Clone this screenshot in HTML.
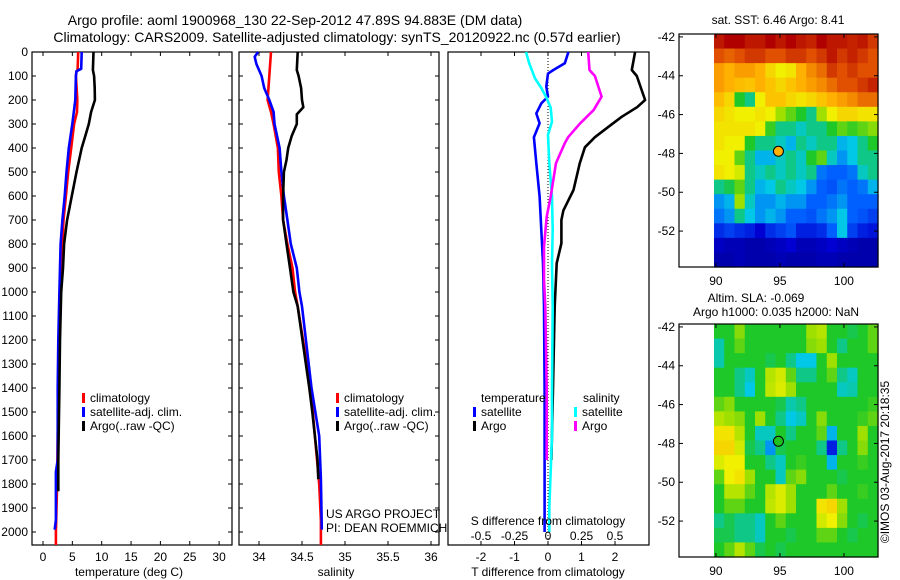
<!DOCTYPE html>
<html><head><meta charset="utf-8"><title>Argo profile</title>
<style>
html,body{margin:0;padding:0;background:#fff;}
svg{display:block;font-family:"Liberation Sans",sans-serif;}
text{font-size:12px;fill:#000;}
.ttl{font-size:14px;}
</style></head>
<body>
<svg id="fig" width="900" height="580" viewBox="0 0 900 580" xmlns="http://www.w3.org/2000/svg">
<g>
<text class="ttl" x="295" y="25" text-anchor="middle">Argo profile: aoml 1900968_130 22-Sep-2012 47.89S 94.883E (DM data)</text>
<text class="ttl" x="337" y="42" text-anchor="middle">Climatology: CARS2009. Satellite-adjusted climatology: synTS_20120922.nc (0.57d earlier)</text>
</g>
<g id="p1"></g>
<g id="p2"></g>
<g id="p3"></g>
<g id="m1"></g>
<g id="m2"></g>
<text x="0" y="0" transform="translate(889,462) rotate(-90)" text-anchor="middle">©IMOS 03-Aug-2017 20:18:35</text>
</svg>
<script>
// ---- profile data (depth m, value) ----
const tClimDepth = [0,75,80,100,200,250,300,400,500,600,700,800,900,1000,1200,1400,1600,1800,2000,2054];
const tClimVal   = [6.0,5.9,5.7,5.6,5.85,5.8,5.3,4.8,4.3,3.9,3.5,3.3,3.1,2.9,2.7,2.6,2.5,2.4,2.2,2.2];
const tSatDepth  = [0,70,80,100,200,300,400,500,600,700,800,900,1000,1200,1400,1700,1750,1950,1990];
const tSatVal    = [6.6,6.5,5.7,5.6,5.5,5.0,4.4,4.0,3.7,3.3,3.0,2.9,2.8,2.6,2.5,2.5,2.2,2.2,2.0];
const tArgoDepth = [0,75,100,150,200,250,300,350,400,500,600,700,800,900,1000,1200,1400,1700,1830];
const tArgoVal   = [8.6,8.5,8.7,8.8,8.85,8.2,7.8,7.2,6.6,5.7,4.9,4.1,3.6,3.4,3.1,2.9,2.8,2.6,2.6];
const sClimDepth = [0,100,200,250,300,400,500,600,700,800,900,1000,1060,1400,1800,1950,2054];
const sClimVal   = [34.14,34.12,34.10,34.14,34.17,34.22,34.23,34.26,34.28,34.33,34.39,34.42,34.45,34.60,34.70,34.72,34.72];
const sSatDepth  = [0,20,50,100,150,200,250,300,400,500,600,700,800,900,1000,1060,1400,1600,1780,1990];
const sSatVal    = [33.99,33.95,33.97,34.03,34.06,34.12,34.17,34.18,34.24,34.26,34.29,34.33,34.37,34.44,34.47,34.50,34.61,34.70,34.72,34.73];
const sArgoDepth = [0,75,100,150,200,230,260,300,350,400,450,500,600,700,800,900,1000,1060,1400,1500,1600,1700,1780];
const sArgoVal   = [34.45,34.44,34.46,34.49,34.50,34.515,34.44,34.44,34.38,34.34,34.32,34.29,34.28,34.28,34.32,34.36,34.40,34.45,34.585,34.62,34.65,34.68,34.69];
const dTSatDepth = [0,47,75,90,144,186,214,256,297,355,463,602,741,880,1060,1400,1700,2000];
const dTSatVal   = [0.61,0.5,0.16,0,-0.05,0,-0.2,-0.35,-0.25,-0.42,-0.35,-0.25,-0.2,-0.15,-0.12,-0.1,-0.1,-0.1];
const dTArgoDepth= [0,75,100,200,230,270,312,355,397,463,575,660,700,797,880,1060,1400,1700];
const dTArgoVal  = [2.6,2.5,2.65,2.9,2.66,2.2,1.8,1.4,1.1,0.95,0.76,0.46,0.4,0.4,0.26,0.2,0.15,0.1];
const dSSatDepth = [0,47,110,150,192,233,290,345,463,602,741,880,1060,1400,1600,1900,2000];
const dSSatVal   = [-0.164,-0.14,-0.097,-0.05,-0.01,0.02,0.03,0,0.01,0.03,0.035,0.03,0.035,0.03,0.03,0.01,0.01];
const dSArgoDepth= [0,75,100,186,242,297,355,380,463,602,686,811,950,1060,1400,1600,1700];
const dSArgoVal  = [0.3,0.31,0.35,0.4,0.34,0.24,0.15,0.125,0.06,0.02,-0.01,-0.03,-0.03,-0.02,-0.01,-0.01,-0.01];
const depthTicks = [0,100,200,300,400,500,600,700,800,900,1000,1100,1200,1300,1400,1500,1600,1700,1800,1900,2000];
const tTicks = [0,5,10,15,20,25,30];
const sTicks = [34,34.5,35,35.5,36];
const sTickLabels = ["34","34.5","35","35.5","36"];
const dTTicks = [-2,-1,0,1,2];
const dSTicks = [-0.5,-0.25,0,0.25,0.5];
const dSTickLabels = ["-0.5","-0.25","0","0.25","0.5"];
// ---- map data (16x16 colour values 0..1) ----
const mapLatTicks = [-42,-44,-46,-48,-50,-52];
const mapLonTicks = [90,95,100];
const argoLon = 94.883, argoLat = -47.89;
const sstGrid = [
[.93,.95,.95,.93,.93,.95,.93,.95,.93,.92,.95,.93,.93,.92,.93,.9],
[.88,.86,.88,.9,.9,.88,.88,.9,.9,.88,.9,.93,.9,.92,.9,.88],
[.8,.78,.8,.8,.78,.72,.68,.7,.78,.82,.85,.9,.88,.9,.88,.88],
[.8,.78,.76,.75,.78,.75,.72,.75,.78,.8,.82,.85,.88,.88,.9,.92],
[.76,.72,.5,.45,.68,.75,.75,.72,.7,.72,.75,.78,.8,.82,.85,.85],
[.72,.7,.68,.68,.7,.68,.6,.55,.5,.45,.6,.68,.72,.72,.7,.7],
[.7,.7,.7,.7,.68,.52,.45,.45,.42,.45,.45,.5,.55,.52,.55,.58],
[.7,.68,.68,.5,.45,.45,.42,.38,.45,.42,.45,.45,.38,.4,.45,.5],
[.68,.68,.55,.45,.38,.38,.42,.45,.42,.5,.55,.42,.35,.4,.45,.45],
[.7,.68,.65,.45,.42,.45,.42,.45,.42,.45,.32,.3,.3,.32,.42,.45],
[.45,.48,.55,.45,.38,.4,.45,.42,.4,.35,.3,.28,.32,.3,.32,.38],
[.35,.38,.6,.42,.35,.35,.38,.35,.35,.3,.3,.32,.35,.3,.3,.3],
[.32,.35,.45,.4,.35,.38,.35,.3,.3,.28,.32,.35,.4,.3,.28,.25],
[.22,.25,.22,.2,.15,.22,.25,.28,.2,.2,.22,.3,.4,.25,.2,.18],
[.12,.1,.1,.08,.08,.1,.12,.15,.1,.1,.12,.15,.12,.1,.08,.08],
[.08,.08,.1,.08,.08,.08,.1,.08,.08,.08,.1,.1,.08,.08,.08,.08]];
const slaGrid = [
[.5,.5,.58,.5,.5,.5,.5,.5,.5,.6,.62,.5,.5,.48,.5,.55],
[.43,.5,.55,.5,.5,.5,.5,.5,.5,.58,.6,.5,.45,.5,.5,.55],
[.43,.5,.5,.5,.5,.48,.5,.45,.4,.4,.5,.6,.5,.5,.5,.5],
[.5,.5,.45,.42,.5,.62,.65,.55,.45,.45,.5,.55,.45,.42,.5,.5],
[.5,.5,.45,.4,.5,.63,.66,.6,.5,.5,.5,.5,.42,.43,.5,.5],
[.55,.58,.5,.5,.5,.5,.48,.43,.45,.5,.5,.5,.5,.5,.5,.52],
[.62,.6,.58,.5,.6,.5,.45,.4,.42,.5,.58,.5,.5,.5,.52,.55],
[.7,.7,.62,.5,.42,.42,.5,.45,.5,.5,.55,.38,.5,.5,.6,.5],
[.72,.72,.65,.48,.45,.35,.48,.5,.5,.5,.45,.2,.45,.5,.58,.5],
[.66,.68,.68,.5,.5,.45,.42,.5,.52,.5,.5,.38,.5,.5,.52,.5],
[.55,.68,.7,.6,.5,.5,.42,.55,.58,.5,.5,.5,.48,.5,.5,.5],
[.5,.62,.62,.55,.5,.62,.66,.6,.5,.5,.5,.55,.5,.5,.52,.5],
[.5,.55,.55,.5,.5,.63,.66,.6,.5,.5,.7,.72,.6,.5,.5,.5],
[.45,.48,.45,.45,.42,.5,.55,.5,.5,.5,.65,.68,.58,.5,.48,.5],
[.48,.48,.45,.45,.42,.5,.5,.48,.5,.5,.55,.55,.5,.48,.5,.5],
[.5,.55,.62,.55,.48,.5,.48,.5,.5,.5,.5,.5,.5,.5,.5,.5]];

const NS="http://www.w3.org/2000/svg";
function mk(parent, tag, attrs, txt){
  const e=document.createElementNS(NS,tag);
  for(const k in attrs) e.setAttribute(k,attrs[k]);
  if(txt!==undefined) e.textContent=txt;
  parent.appendChild(e); return e;
}
const Y0=52, YS=0.24, YB=545, YT=52;
const yD = d => Y0 + d*YS;
const xT = t => 43 + t*5.87;
const xS = s => 259 + (s-34)*86;
const xDT = v => 548 + v*33.5;
const xDS = v => 548 + v*134;

function linePath(depths, vals, xf){
  let d="";
  for(let i=0;i<depths.length;i++){
    const x=xf(vals[i]).toFixed(1), y=yD(depths[i]).toFixed(1);
    d+=(i===0?"M":"L")+x+","+y;
  }
  return d;
}
function frame(g, x0, x1){
  const r=mk(g,"rect",{x:x0,y:YT,width:x1-x0,height:YB-YT,fill:"none",stroke:"#000","stroke-width":1.2});
  
  
}
function line(g, depths, vals, xf, color, name){
  const p=mk(g,"path",{d:linePath(depths,vals,xf),fill:"none",stroke:color,"stroke-width":2.6,"stroke-linejoin":"round"});
  
  
}
function xticks(g, ticks, labels, xf, y){
  ticks.forEach((t,i)=>{
    const x=xf(t);
    mk(g,"line",{x1:x,x2:x,y1:YT,y2:YT+4,stroke:"#000"});
    mk(g,"line",{x1:x,x2:x,y1:YB,y2:YB-4,stroke:"#000"});
    if(labels){
      const tx=mk(g,"text",{x:x,y:y,"text-anchor":"middle"},labels[i]);
      
      
    }
  });
}
function yticks(g, x0, x1){
  depthTicks.forEach(d=>{
    const y=yD(d);
    mk(g,"line",{x1:x0,x2:x0+4,y1:y,y2:y,stroke:"#000"});
    mk(g,"line",{x1:x1,x2:x1-4,y1:y,y2:y,stroke:"#000"});
  });
}
function legendItem(g,x,y,color,label){
  const r=mk(g,"rect",{x:x,y:y-9,width:3,height:10,fill:color});
  
  
  const t=mk(g,"text",{x:x+8,y:y},label);
  
  
}

// Panel 1
const p1=document.getElementById("p1");
frame(p1,32,232); yticks(p1,32,232);
depthTicks.forEach(d=>{
  const t=mk(p1,"text",{x:28,y:yD(d)+4,"text-anchor":"end"},String(d));
  
  
});
xticks(p1,tTicks,tTicks.map(String),xT,561);
line(p1,tClimDepth,tClimVal,xT,"#ff0000","temp-climatology-line");
line(p1,tSatDepth,tSatVal,xT,"#0000ff","temp-satellite-line");
line(p1,tArgoDepth,tArgoVal,xT,"#000000","temp-argo-line");
legendItem(p1,82,402,"#ff0000","climatology");
legendItem(p1,82,416,"#0000ff","satellite-adj. clim.");
legendItem(p1,82,430,"#000000","Argo(..raw -QC)");
{const t=mk(p1,"text",{x:129,y:576,"text-anchor":"middle"},"temperature (deg C)");

}

// Panel 2
const p2=document.getElementById("p2");
frame(p2,239,439); yticks(p2,239,439);
xticks(p2,sTicks,sTickLabels,xS,561);
line(p2,sClimDepth,sClimVal,xS,"#ff0000","sal-climatology-line");
line(p2,sSatDepth,sSatVal,xS,"#0000ff","sal-satellite-line");
line(p2,sArgoDepth,sArgoVal,xS,"#000000","sal-argo-line");
legendItem(p2,336,402,"#ff0000","climatology");
legendItem(p2,336,416,"#0000ff","satellite-adj. clim.");
legendItem(p2,336,430,"#000000","Argo(..raw -QC)");
{let t=mk(p2,"text",{x:326,y:518},"US ARGO PROJECT");


t=mk(p2,"text",{x:326,y:532},"PI: DEAN ROEMMICH");


t=mk(p2,"text",{x:336,y:576,"text-anchor":"middle"},"salinity");

}

// Panel 3
const p3=document.getElementById("p3");
frame(p3,448,649);
xticks(p3,dTTicks,dTTicks.map(String),xDT,561);
mk(p3,"line",{x1:xDT(0),x2:xDT(0),y1:YT,y2:YB,stroke:"#000","stroke-dasharray":"1,2"});
line(p3,dTSatDepth,dTSatVal,xDT,"#0000ff","tdiff-satellite-line");
line(p3,dTArgoDepth,dTArgoVal,xDT,"#000000","tdiff-argo-line");
line(p3,dSSatDepth,dSSatVal,xDS,"#00ffff","sdiff-satellite-line");
line(p3,dSArgoDepth,dSArgoVal,xDS,"#ff00ff","sdiff-argo-line");
{let t=mk(p3,"text",{x:481,y:402},"temperature");


t=mk(p3,"text",{x:583,y:402},"salinity");

}
legendItem(p3,473,416,"#0000ff","satellite");
legendItem(p3,473,430,"#000000","Argo");
legendItem(p3,574,416,"#00ffff","satellite");
legendItem(p3,574,430,"#ff00ff","Argo");
{let t=mk(p3,"text",{x:548,y:525,"text-anchor":"middle"},"S difference from climatology");


dSTicks.forEach((v,i)=>{
  const tl=mk(p3,"text",{x:xDS(v),y:540,"text-anchor":"middle"},dSTickLabels[i]);
  
  
});
t=mk(p3,"text",{x:548,y:576,"text-anchor":"middle"},"T difference from climatology");

}

// Maps
const cmapStops=[[0,[0,0,128]],[0.15,[0,0,210]],[0.3,[0,96,255]],[0.4,[0,200,230]],[0.5,[30,200,40]],[0.6,[160,224,0]],[0.68,[240,240,0]],[0.78,[255,176,0]],[0.88,[224,80,0]],[0.95,[176,0,0]],[1,[144,0,0]]];
function cmap(v){
  for(let i=1;i<cmapStops.length;i++){
    if(v<=cmapStops[i][0]){
      const a=cmapStops[i-1],b=cmapStops[i],f=(v-a[0])/(b[0]-a[0]);
      return "rgb("+a[1].map((c,k)=>Math.round(c+(b[1][k]-c)*f)).join(",")+")";
    }
  }
  return "rgb(144,0,0)";
}
const LON0=89.85, LON1=102.66, LAT0=-41.85, LAT1=-53.85;
function drawMap(g, top, grid, dotColor, name){
  const bx0=679, bx1=878, dx0=714, bot=top+233;
  const xl = lon => dx0 + (lon-LON0)/(LON1-LON0)*(bx1-dx0);
  const yl = lat => top + (lat-LAT0)/(LAT1-LAT0)*(bot-top);
  const nr=grid.length, nc=grid[0].length;
  const dlon=(LON1-LON0)/nc, dlat=(LAT1-LAT0)/nr;
  grid.forEach((row,r)=>row.forEach((v,c)=>{
    const x=xl(LON0+c*dlon), y=yl(LAT0+r*dlat);
    const cell=mk(g,"rect",{x:x.toFixed(2),y:y.toFixed(2),width:(xl(LON0+(c+1)*dlon)-x+0.6).toFixed(2),height:(yl(LAT0+(r+1)*dlat)-y+0.6).toFixed(2),fill:cmap(v)});
    
    
  }));
  const fr=mk(g,"rect",{x:bx0,y:top,width:bx1-bx0,height:bot-top,fill:"none",stroke:"#000","stroke-width":1.2});
  
  
  mapLatTicks.forEach(lat=>{
    const y=yl(lat);
    mk(g,"line",{x1:bx1,x2:bx1-4,y1:y,y2:y,stroke:"#000"});
    mk(g,"line",{x1:bx0,x2:bx0+4,y1:y,y2:y,stroke:"#000"});
    const t=mk(g,"text",{x:675,y:y+4,"text-anchor":"end"},String(lat));
    
    
  });
  mapLonTicks.forEach(lon=>{
    const x=xl(lon);
    mk(g,"line",{x1:x,x2:x,y1:top,y2:top+4,stroke:"#000"});
    mk(g,"line",{x1:x,x2:x,y1:bot,y2:bot-4,stroke:"#000"});
    const t=mk(g,"text",{x:x,y:bot+18,"text-anchor":"middle"},String(lon));
    
    
  });
  const c=mk(g,"circle",{cx:xl(argoLon),cy:yl(argoLat),r:5,fill:dotColor,stroke:"#000","stroke-width":1});
  
  
}
const m1=document.getElementById("m1");
drawMap(m1,34,sstGrid,"#ffb000","sst-map");
{const t=mk(m1,"text",{x:778,y:24,"text-anchor":"middle"},"sat. SST: 6.46 Argo: 8.41");

}
const m2=document.getElementById("m2");
drawMap(m2,324,slaGrid,"#20c020","sla-map");
{let t=mk(m2,"text",{x:756,y:302,"text-anchor":"middle"},"Altim. SLA: -0.069");


t=mk(m2,"text",{x:776,y:316,"text-anchor":"middle"},"Argo h1000: 0.035 h2000: NaN");

}
</script>
</body></html>
